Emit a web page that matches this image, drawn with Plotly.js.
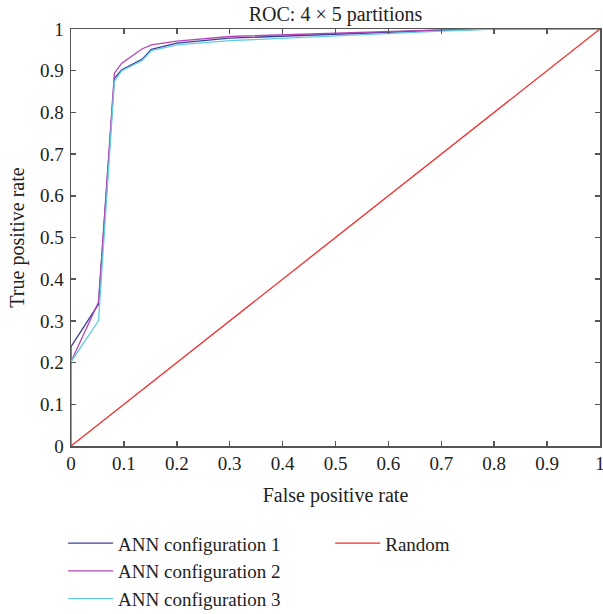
<!DOCTYPE html>
<html>
<head>
<meta charset="utf-8">
<script src="https://cdn.plot.ly/plotly-3.0.1.min.js"></script>
<style>html,body{margin:0;padding:0;background:#fff;}#chart{width:603px;height:614px;}</style>
</head>
<body>
<div id="chart"></div>
<script>
const fpr = [0, 0, 0.052, 0.082, 0.096, 0.134, 0.152, 0.2, 0.3, 0.5, 0.7, 0.8, 1];
const tprConfig1 = [0, 0.238, 0.34, 0.882, 0.902, 0.927, 0.951, 0.966, 0.978, 0.988, 0.997, 1, 1];
const tprConfig2 = [0, 0.202, 0.345, 0.894, 0.918, 0.952, 0.962, 0.971, 0.982, 0.99, 0.998, 1, 1];
const tprConfig3 = [0, 0.202, 0.30, 0.874, 0.9, 0.924, 0.948, 0.962, 0.972, 0.984, 0.995, 1, 1];
const randomX = [0, 1];
const randomY = [0, 1];
const seriesNames = ["ANN configuration 1", "ANN configuration 2", "ANN configuration 3", "Random"];
const tickVals = [0, 0.1, 0.2, 0.3, 0.4, 0.5, 0.6, 0.7, 0.8, 0.9, 1];
const tickText = ["0", "0.1", "0.2", "0.3", "0.4", "0.5", "0.6", "0.7", "0.8", "0.9", "1"];

const FONT = "Liberation Serif, Times New Roman, serif";
const traces = [
  {x: fpr, y: tprConfig1, name: seriesNames[0], mode: "lines", line: {color: "#3b3f9c", width: 1.3}, legend: "legend"},
  {x: fpr, y: tprConfig2, name: seriesNames[1], mode: "lines", line: {color: "#b246b4", width: 1.3}, legend: "legend"},
  {x: fpr, y: tprConfig3, name: seriesNames[2], mode: "lines", line: {color: "#62cde0", width: 1.3}, legend: "legend"},
  {x: randomX, y: randomY, name: seriesNames[3], mode: "lines", line: {color: "#f42a2a", width: 1.3}, legend: "legend2"}
];

const axisCommon = {
  range: [0, 1],
  tickvals: tickVals,
  ticktext: tickText,
  ticks: "inside",
  ticklen: 5,
  tickwidth: 1.5,
  tickcolor: "#555",
  showline: true,
  linecolor: "#555",
  linewidth: 1.5,
  mirror: "allticks",
  showgrid: false,
  zeroline: false,
  ticklabeloverflow: "allow",
  tickfont: {family: FONT, size: 19, color: "#222"}
};

const layout = {
  width: 603, height: 614,
  margin: {l: 71, r: 3, t: 29, b: 168},
  paper_bgcolor: "#fff", plot_bgcolor: "#fff",
  font: {family: FONT, color: "#222"},
  title: {text: "ROC: 4 × 5 partitions", font: {family: FONT, size: 20, color: "#222"}, xref: "paper", x: 0.5, xanchor: "center", yref: "container", y: 0.978, yanchor: "middle"},
  xaxis: Object.assign({}, axisCommon, {title: {text: "False positive rate", font: {family: FONT, size: 20, color: "#222"}, standoff: 14}}),
  yaxis: Object.assign({}, axisCommon, {ticklabelstandoff: 2, title: {text: "True positive rate", font: {family: FONT, size: 20, color: "#222"}, standoff: 10}}),
  showlegend: true,
  legend: {xref: "paper", x: -0.015, xanchor: "left", yref: "container", y: 0.146, yanchor: "top", orientation: "v", itemwidth: 45, font: {family: FONT, size: 19, color: "#222"}, bgcolor: "rgba(0,0,0,0)", tracegroupgap: 0},
  legend2: {xref: "paper", x: 0.49, xanchor: "left", yref: "container", y: 0.146, yanchor: "top", orientation: "v", itemwidth: 45, font: {family: FONT, size: 19, color: "#222"}, bgcolor: "rgba(0,0,0,0)"}
};

Plotly.newPlot("chart", traces, layout, {displayModeBar: false, staticPlot: true});
</script>
</body>
</html>
